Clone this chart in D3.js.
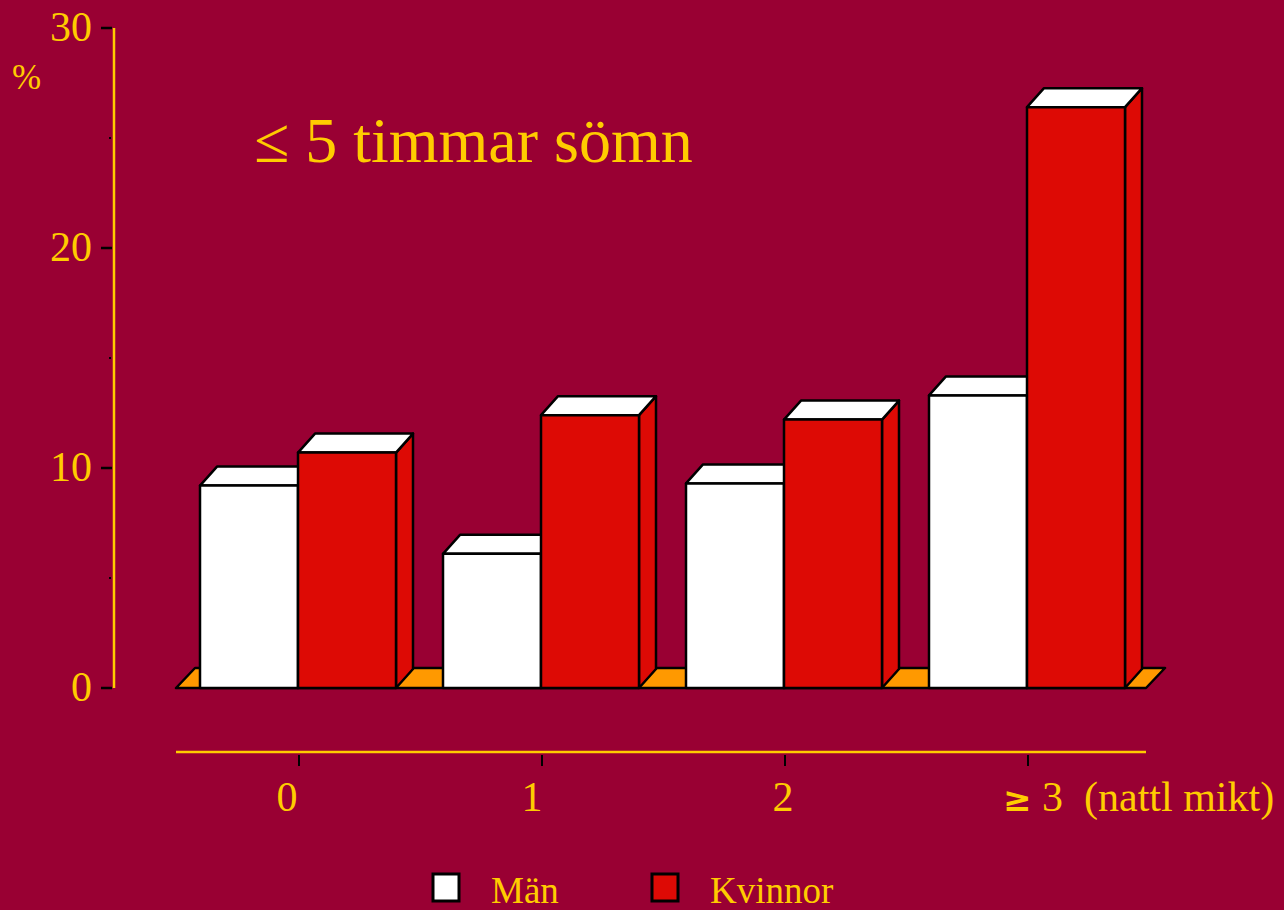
<!DOCTYPE html>
<html><head><meta charset="utf-8">
<script src="https://cdn.jsdelivr.net/npm/d3@7"></script>
<style>
html,body{margin:0;padding:0;background:#990033;}
svg{display:block;}
text{font-family:"Liberation Serif","Times New Roman",serif;fill:#FFCC00;}
</style></head>
<body>
<svg id="c" width="1284" height="910"></svg>
<script>
const categories = ["0", "1", "2", "≥ 3"];
const categorySuffix = "  (nattl mikt)";
const series = ["Män", "Kvinnor"];
const manValues = [9.2, 6.1, 9.3, 13.3];
const kvinnorValues = [10.7, 12.4, 12.2, 26.4];
const yTicks = [0, 10, 20, 30];
const yMinorTicks = [5, 15, 25];
const title = "≤ 5 timmar sömn";
const yLabel = "%";

const colors = {"Män": "#FFFFFF", "Kvinnor": "#DD0A05"};
const bg = "#990033", yellow = "#FFCC00", floorCol = "#FF9900";
const labelShift = [-12, -10, -2];

const svg = d3.select("#c");
svg.append("rect").attr("width",1284).attr("height",910).attr("fill",bg);

const y = d3.scaleLinear().domain([0,30]).range([688,28]);
const x = d3.scalePoint().domain(categories).range([299,1028]);
const xs = d3.scaleBand().domain(series).range([-99,97]);
const dx = 17, dy = -19;

// floor
const fl = 176, fr = 1146, fy = y(0);
svg.append("path")
  .attr("d", `M${fl},${fy}L${fr},${fy}L${fr+dx+2},${fy+dy-1}L${fl+dx+2},${fy+dy-1}Z`)
  .attr("fill", floorCol).attr("stroke","#000").attr("stroke-width",2.5).attr("stroke-linejoin","round");

// bars
const data = [];
categories.forEach((c,i)=>{
  data.push({cat:c, s:"Män", v:manValues[i]});
  data.push({cat:c, s:"Kvinnor", v:kvinnorValues[i]});
});
const g = svg.append("g");
data.forEach(d=>{
  const x0 = x(d.cat) + xs(d.s), x1 = x0 + xs.bandwidth();
  const yt = y(d.v), yb = y(0);
  const bar = g.append("g").attr("stroke","#000").attr("stroke-width",2.5).attr("stroke-linejoin","round");
  bar.append("path").attr("d",`M${x1},${yb}L${x1+dx},${yb+dy}L${x1+dx},${yt+dy}L${x1},${yt}Z`).attr("fill",colors[d.s]);
  bar.append("path").attr("d",`M${x0},${yt}L${x0+dx},${yt+dy}L${x1+dx},${yt+dy}L${x1},${yt}Z`).attr("fill","#FFFFFF");
  bar.append("rect").attr("x",x0).attr("y",yt).attr("width",x1-x0).attr("height",yb-yt).attr("fill",colors[d.s]);
});

// y axis
svg.append("line").attr("x1",114).attr("x2",114).attr("y1",y(30)).attr("y2",y(0)).attr("stroke",yellow).attr("stroke-width",2.5);
yTicks.forEach(t=>{
  svg.append("line").attr("x1",101).attr("x2",112).attr("y1",y(t)).attr("y2",y(t)).attr("stroke","#000").attr("stroke-width",2.5);
  svg.append("text").attr("x",92).attr("y",y(t)+13).attr("text-anchor","end").attr("font-size",42).text(t);
});
yMinorTicks.forEach(t=>{
  svg.append("rect").attr("x",109).attr("y",y(t)-1).attr("width",2).attr("height",2).attr("fill","#000");
});
svg.append("text").attr("x",12).attr("y",89).attr("font-size",35).text(yLabel);

// title
svg.append("text").attr("x",254).attr("y",162).attr("font-size",64).text(title);

// x axis
svg.append("line").attr("x1",176).attr("x2",1146).attr("y1",752).attr("y2",752).attr("stroke",yellow).attr("stroke-width",2.5);
categories.forEach((c,i)=>{
  const cx = x(c);
  svg.append("line").attr("x1",cx).attr("x2",cx).attr("y1",755).attr("y2",766).attr("stroke","#000").attr("stroke-width",2);
  if(i<3){
    svg.append("text").attr("x",cx+labelShift[i]).attr("y",811).attr("text-anchor","middle").attr("font-size",42).text(c);
  } else {
    const t = svg.append("text").attr("x",1003).attr("y",811).attr("font-size",42).attr("xml:space","preserve").style("white-space","pre");
    t.append("tspan").attr("font-weight","bold").attr("font-family","DejaVu Sans").attr("font-size",34).text(c.slice(0,1));
    t.append("tspan").text(c.slice(1) + categorySuffix);
  }
});

// legend
const leg = [{s:"Män", bx:433, tx:491},{s:"Kvinnor", bx:652, tx:710}];
leg.forEach(l=>{
  svg.append("rect").attr("x",l.bx).attr("y",874).attr("width",26).attr("height",27).attr("fill",colors[l.s]).attr("stroke","#000").attr("stroke-width",3);
  svg.append("text").attr("x",l.tx).attr("y",903).attr("font-size",37).text(l.s);
});
</script>
</body></html>
